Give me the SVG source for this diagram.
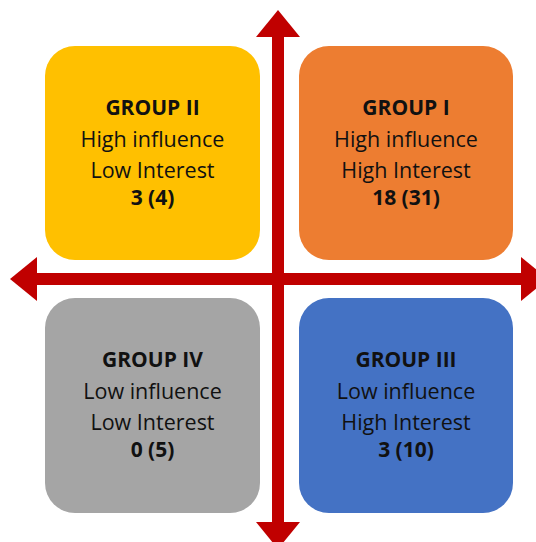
<svg xmlns="http://www.w3.org/2000/svg" width="536" height="542" viewBox="0 0 536 542">
<style>
.box{stroke:none}
.t{font-family:"Open Sans","Liberation Sans",sans-serif;font-size:21.5px;fill:#111;text-anchor:middle}
.b{font-weight:bold;font-size:21px}
.ax{stroke:#C00000;stroke-width:12;fill:none}
</style>
<defs>
<marker id="ah" markerUnits="userSpaceOnUse" viewBox="0 0 27 44" markerWidth="27" markerHeight="44" refX="0" refY="22" orient="auto-start-reverse">
<path d="M0,0 L27,22 L0,44 Z" fill="#C00000"/>
</marker>
</defs>
<rect width="536" height="542" fill="#fff"/>
<g id="group2">
<rect class="box" x="45" y="46" width="215" height="214" rx="30" fill="#FFC000"/>
<text class="t b" x="152.5" y="115">GROUP II</text>
<text class="t" x="152.5" y="147">High influence</text>
<text class="t" x="152.5" y="178">Low Interest</text>
<text class="t b" x="152.5" y="205">3 (4)</text>
</g>
<g id="group1">
<rect class="box" x="299" y="46" width="214" height="214" rx="30" fill="#ED7D31"/>
<text class="t b" x="406" y="115">GROUP I</text>
<text class="t" x="406" y="147">High influence</text>
<text class="t" x="406" y="178">High Interest</text>
<text class="t b" x="406" y="205">18 (31)</text>
</g>
<g id="group4">
<rect class="box" x="45" y="298" width="215" height="215" rx="30" fill="#A5A5A5"/>
<text class="t b" x="152.5" y="367">GROUP IV</text>
<text class="t" x="152.5" y="399">Low influence</text>
<text class="t" x="152.5" y="430">Low Interest</text>
<text class="t b" x="152.5" y="457">0 (5)</text>
</g>
<g id="group3">
<rect class="box" x="299" y="298" width="214" height="215" rx="30" fill="#4472C4"/>
<text class="t b" x="406" y="367">GROUP III</text>
<text class="t" x="406" y="399">Low influence</text>
<text class="t" x="406" y="430">High Interest</text>
<text class="t b" x="406" y="457">3 (10)</text>
</g>
<g id="connectors">
<line class="ax" x1="278" y1="37" x2="278" y2="522" marker-start="url(#ah)" marker-end="url(#ah)"/>
<line class="ax" x1="37" y1="279" x2="521" y2="279" marker-start="url(#ah)" marker-end="url(#ah)"/>
</g>
</svg>
